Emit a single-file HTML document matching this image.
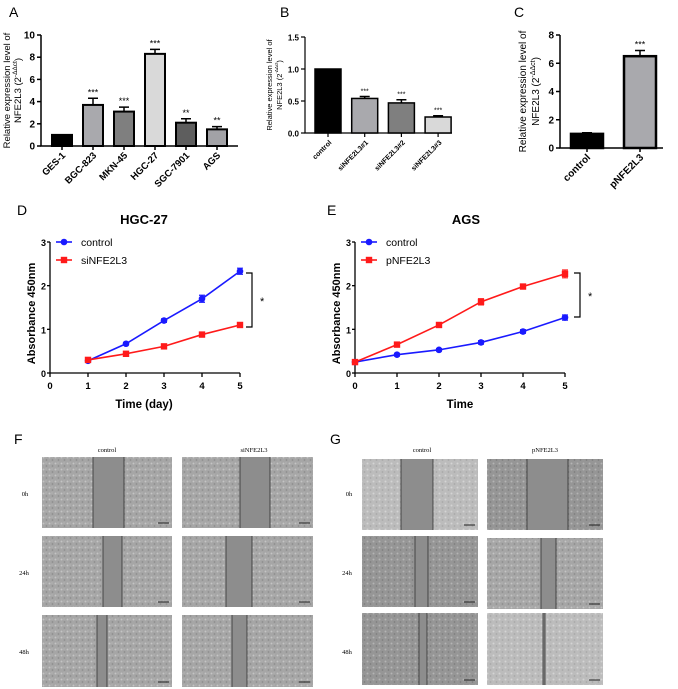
<!DOCTYPE html>
<html><head><meta charset="utf-8">
<style>
html,body{margin:0;padding:0;background:#fff;}
svg{display:block;font-family:"Liberation Sans",Arial,sans-serif;}
</style></head>
<body>
<svg id="fig" width="678" height="689" viewBox="0 0 678 689" xmlns="http://www.w3.org/2000/svg">
<defs>
<pattern id="cells" width="6" height="6" patternUnits="userSpaceOnUse">
<rect width="6" height="6" fill="#a6a6a6"/>
<circle cx="1.5" cy="1.5" r="1" fill="#c4c4c4"/>
<circle cx="4.5" cy="4" r="0.9" fill="#8c8c8c"/>
<circle cx="4" cy="1" r="0.6" fill="#bdbdbd"/>
</pattern>
<pattern id="cellsL" width="6" height="6" patternUnits="userSpaceOnUse">
<rect width="6" height="6" fill="#bcbcbc"/>
<circle cx="1.5" cy="1.5" r="1" fill="#d4d4d4"/>
<circle cx="4.5" cy="4" r="0.9" fill="#a8a8a8"/>
</pattern>
<pattern id="cellsD" width="6" height="6" patternUnits="userSpaceOnUse">
<rect width="6" height="6" fill="#969696"/>
<circle cx="1.5" cy="1.5" r="1" fill="#b4b4b4"/>
<circle cx="4.5" cy="4" r="0.9" fill="#7e7e7e"/>
</pattern>
</defs>
<g font-size="14">
<text x="9" y="17">A</text>
<text x="280" y="17">B</text>
<text x="514" y="17">C</text>
<text x="17" y="215">D</text>
<text x="327" y="215">E</text>
<text x="14" y="444">F</text>
<text x="330" y="444">G</text>
</g>
</svg>
<script>
// ---- data ----
const aCats = ["GES-1","BGC-823","MKN-45","HGC-27","SGC-7901","AGS"];
const aVals = [1.0, 3.7, 3.1, 8.3, 2.1, 1.5];
const aErr = [0.0, 0.6, 0.4, 0.4, 0.35, 0.25];
const aSig = ["","***","***","***","**","**"];
const aTicks = [0,2,4,6,8,10];
const bCats = ["control","siNFE2L3#1","siNFE2L3#2","siNFE2L3#3"];
const bVals = [1.0, 0.54, 0.47, 0.25];
const bErr = [0.0, 0.03, 0.05, 0.02];
const bSig = ["","***","***","***"];
const bTicks = [0.0,0.5,1.0,1.5];
const cCats = ["control","pNFE2L3"];
const cVals = [1.0, 6.5];
const cErr = [0.08, 0.4];
const cSig = ["","***"];
const cTicks = [0,2,4,6,8];
const dX = [1,2,3,4,5];
const dControl = [0.28,0.67,1.2,1.7,2.33];
const dControlErr = [0.03,0.03,0.04,0.08,0.07];
const dSi = [0.3,0.44,0.61,0.88,1.1];
const dSiErr = [0.03,0.03,0.03,0.05,0.04];
const eX = [0,1,2,3,4,5];
const eControl = [0.25,0.42,0.53,0.7,0.95,1.27];
const eControlErr = [0.03,0.03,0.03,0.04,0.04,0.06];
const eP = [0.25,0.65,1.1,1.63,1.98,2.27];
const eErrP = [0.03,0.04,0.04,0.07,0.05,0.09];
const lineXTicks = [0,1,2,3,4,5];
const lineYTicks = [0,1,2,3];

const NS="http://www.w3.org/2000/svg";
const svg=document.getElementById('fig');
function mk(tag,attrs,parent){const e=document.createElementNS(NS,tag);for(const k in attrs)e.setAttribute(k,attrs[k]);(parent||svg).appendChild(e);return e;}
function txt(s,attrs,parent){const e=mk('text',attrs,parent);e.textContent=s;return e;}

function barChart(cfg){
  const g=mk('g',{});
  
  
  const y=v=>cfg.y0-(v-cfg.ymin)/(cfg.ymax-cfg.ymin)*(cfg.y0-cfg.y1);
  const ax=mk('path',{d:`M${cfg.x0},${cfg.y1} V${cfg.y0} H${cfg.xEnd}`,stroke:'#000','stroke-width':cfg.aw,fill:'none'},g);
  
  
  cfg.ticks.forEach(t=>{
    const tk=mk('line',{x1:cfg.x0-4,x2:cfg.x0,y1:y(t),y2:y(t),stroke:'#000','stroke-width':cfg.aw},g);
    
    
    const tl=txt(cfg.fmt(t),{x:cfg.x0-6,y:y(t)+3.5,'text-anchor':'end','font-size':cfg.fs,'font-weight':'bold'},g);
    
    
  });
  cfg.cats.forEach((c,i)=>{
    const cx=cfg.cx0+i*cfg.step, v=cfg.vals[i];
    const b=mk('rect',{x:cx-cfg.bw/2,y:y(v),width:cfg.bw,height:cfg.y0-y(v),fill:cfg.colors[i],stroke:'#000','stroke-width':cfg.bsw},g);
    
    
    const e=cfg.err[i];
    if(e>0){
      const eb=mk('path',{d:`M${cx},${y(v)} V${y(v+e)} M${cx-5},${y(v+e)} H${cx+5}`,stroke:'#000','stroke-width':1.5,fill:'none'},g);
      
      
    }
    if(cfg.sig[i]){
      const s=txt(cfg.sig[i],{x:cx,y:y(v+e)-3,'text-anchor':'middle','font-size':cfg.fs-1},g);
      
      
    }
    const tk=mk('line',{x1:cx,x2:cx,y1:cfg.y0,y2:cfg.y0+4,stroke:'#000','stroke-width':cfg.aw},g);
    
    
    const xl=txt(c,{x:cx+4,y:cfg.y0+10,'text-anchor':'end','font-size':cfg.xfs,'font-weight':'bold',transform:`rotate(-45 ${cx+4} ${cfg.y0+10})`},g);
    
    
  });
  const ym=(cfg.y0+cfg.y1)/2;
  const l1=txt('Relative expression level of',{x:cfg.lx,y:ym,'text-anchor':'middle','font-size':cfg.lfs,transform:`rotate(-90 ${cfg.lx} ${ym})`},g);
  
  
  const l2=mk('text',{x:cfg.lx+cfg.lgap,y:ym,'text-anchor':'middle','font-size':cfg.lfs,transform:`rotate(-90 ${cfg.lx+cfg.lgap} ${ym})`},g);
  l2.innerHTML='NFE2L3 (2<tspan dy="-4" font-size="'+(cfg.lfs-3)+'">-ΔΔct</tspan><tspan dy="4">)</tspan>';
  
  
}

barChart({name:'chart-a',cats:aCats,vals:aVals,err:aErr,sig:aSig,ticks:aTicks,ymin:0,ymax:10,
  x0:41,y0:146,y1:35,xEnd:238,cx0:62,step:31,bw:20,bsw:2,aw:1.5,fs:10,xfs:9.5,lfs:9.5,lx:10,lgap:11,
  colors:['#000','#a9a9ad','#7f7f7f','#d9d9d9','#5e5e5e','#a2a2a6'],fmt:t=>String(t)});
barChart({name:'chart-b',cats:bCats,vals:bVals,err:bErr,sig:bSig,ticks:bTicks,ymin:0,ymax:1.5,
  x0:305,y0:133,y1:37,xEnd:452,cx0:328,step:36.7,bw:26,bsw:1.5,aw:1.2,fs:8,xfs:7,lfs:7.5,lx:272,lgap:10,
  colors:['#000','#a9a9ad','#7f7f7f','#d9d9d9'],fmt:t=>t.toFixed(1)});
barChart({name:'chart-c',cats:cCats,vals:cVals,err:cErr,sig:cSig,ticks:cTicks,ymin:0,ymax:8,
  x0:560,y0:148,y1:35,xEnd:663,cx0:587,step:53,bw:32,bsw:2.5,aw:1.5,fs:10,xfs:10,lfs:10,lx:526,lgap:13,
  colors:['#000','#a9a9ad'],fmt:t=>String(t)});

function lineChart(cfg){
  const g=mk('g',{});
  
  
  const x=v=>cfg.x0+v/5*(cfg.x5-cfg.x0);
  const y=v=>cfg.y0-v/3*(cfg.y0-cfg.y3);
  const ax=mk('path',{d:`M${cfg.x0},${cfg.y3} V${cfg.y0} H${cfg.x5}`,stroke:'#000','stroke-width':1.3,fill:'none'},g);
  
  
  lineYTicks.forEach(t=>{
    const tk=mk('line',{x1:cfg.x0-3,x2:cfg.x0,y1:y(t),y2:y(t),stroke:'#000','stroke-width':1.3},g);
    
    
    const tl=txt(String(t),{x:cfg.x0-4,y:y(t)+4,'text-anchor':'end','font-size':9,'font-weight':'bold'},g);
    
    
  });
  lineXTicks.forEach(t=>{
    const tk=mk('line',{x1:x(t),x2:x(t),y1:cfg.y0,y2:cfg.y0+4,stroke:'#000','stroke-width':1.3},g);
    
    
    const tl=txt(String(t),{x:x(t),y:cfg.y0+16,'text-anchor':'middle','font-size':9.5,'font-weight':'bold'},g);
    
    
  });
  const series=[{n:cfg.s1n,xs:cfg.xs1,v:cfg.s1,e:cfg.e1,c:'#1a1aff',sq:false},{n:cfg.s2n,xs:cfg.xs2,v:cfg.s2,e:cfg.e2,c:'#ff1a1a',sq:true}];
  series.forEach((s,si)=>{
    const pts=s.xs.map((xv,i)=>x(xv)+','+y(s.v[i])).join(' ');
    const pl=mk('polyline',{points:pts,fill:'none',stroke:s.c,'stroke-width':1.6},g);
    
    
    s.xs.forEach((xv,i)=>{
      const px=x(xv),py=y(s.v[i]),ee=s.e[i]/3*(cfg.y0-cfg.y3);
      const eb=mk('path',{d:`M${px},${py-ee} V${py+ee} M${px-3},${py-ee} H${px+3} M${px-3},${py+ee} H${px+3}`,stroke:s.c,'stroke-width':1.2,fill:'none'},g);
      
      
      const m=s.sq?mk('rect',{x:px-3.2,y:py-3.2,width:6.4,height:6.4,fill:s.c},g):mk('circle',{cx:px,cy:py,r:3.3,fill:s.c},g);
      
      
    });
    const ly=cfg.y3+si*18;
    const ll=mk('line',{x1:cfg.x0+6,x2:cfg.x0+22,y1:ly,y2:ly,stroke:s.c,'stroke-width':1.6},g);
    
    
    const lm=s.sq?mk('rect',{x:cfg.x0+14-3.2,y:ly-3.2,width:6.4,height:6.4,fill:s.c},g):mk('circle',{cx:cfg.x0+14,cy:ly,r:3.3,fill:s.c},g);
    
    
    const lt=txt(s.n,{x:cfg.x0+31,y:ly+4,'font-size':10.5},g);
    
    
  });
  const bx=cfg.bx;
  const br=mk('path',{d:`M${bx-6},${cfg.by1} H${bx} V${cfg.by2} H${bx-6}`,stroke:'#000','stroke-width':1.2,fill:'none'},g);
  
  
  const st=txt('*',{x:bx+8,y:(cfg.by1+cfg.by2)/2+5,'font-size':11},g);
  
  
  const tt=txt(cfg.title,{x:cfg.tx,y:224,'text-anchor':'middle','font-size':13,'font-weight':'bold'},g);
  
  
  const ym=(cfg.y0+cfg.y3)/2+6;
  const yt=txt('Absorbance 450nm',{x:cfg.x0-15,y:ym,'text-anchor':'middle','font-size':11,'font-weight':'bold',transform:`rotate(-90 ${cfg.x0-15} ${ym})`},g);
  
  
  const xt=txt(cfg.xtitle,{x:cfg.xtx,y:408,'text-anchor':'middle','font-size':11.5,'font-weight':'bold'},g);
  
  
}
lineChart({name:'chart-d',title:'HGC-27',tx:144,x0:50,x5:240,y0:373,y3:242,s1n:'control',s2n:'siNFE2L3',xs1:dX,xs2:dX,s1:dControl,e1:dControlErr,s2:dSi,e2:dSiErr,bx:252,by1:273,by2:327,xtitle:'Time (day)',xtx:144});
lineChart({name:'chart-e',title:'AGS',tx:466,x0:355,x5:565,y0:373,y3:242,s1n:'control',s2n:'pNFE2L3',xs1:eX,xs2:eX,s1:eControl,e1:eControlErr,s2:eP,e2:eErrP,bx:580,by1:273,by2:317,xtitle:'Time',xtx:460});

// wound-healing micrographs
function micro(name,x1,y1,x2,y2,g1,g2,fill){
  const g=mk('g',{});
  
  
  const r=mk('rect',{x:x1,y:y1,width:x2-x1,height:y2-y1,fill:fill},g);
  
  
  const gap=mk('rect',{x:g1,y:y1,width:g2-g1,height:y2-y1,fill:'#8d8d8d'},g);
  
  
  [g1,g2].forEach(v=>{const l=mk('line',{x1:v,x2:v,y1:y1,y2:y2,stroke:'#333','stroke-width':0.8},g);
    
    });
  const sb=mk('line',{x1:x2-14,x2:x2-3,y1:y2-5,y2:y2-5,stroke:'#222','stroke-width':1},g);
  
  
}
micro('f-control-0h',42,457,172,528,93,124,'url(#cells)');
micro('f-si-0h',182,457,313,528,240,270,'url(#cells)');
micro('f-control-24h',42,536,172,607,103,122,'url(#cells)');
micro('f-si-24h',182,536,313,607,226,252,'url(#cells)');
micro('f-control-48h',42,615,172,687,97,107,'url(#cells)');
micro('f-si-48h',182,615,313,687,232,247,'url(#cells)');
micro('g-control-0h',362,459,478,530,401,433,'url(#cellsL)');
micro('g-p-0h',487,459,603,530,527,568,'url(#cellsD)');
micro('g-control-24h',362,536,478,607,415,428,'url(#cellsD)');
micro('g-p-24h',487,538,603,609,541,556,'url(#cells)');
micro('g-control-48h',362,613,478,685,419,427,'url(#cellsD)');
micro('g-p-48h',487,613,603,685,543,545,'url(#cellsL)');
const labs=[['control',107,452],['siNFE2L3',254,452],['control',422,452],['pNFE2L3',545,452],
  ['0h',25,496],['24h',24,575],['48h',24,654],['0h',349,496],['24h',347,575],['48h',347,654]];
labs.forEach(l=>{
  const t=txt(l[0],{x:l[1],y:l[2],'text-anchor':'middle','font-size':6.5,'font-family':'Liberation Serif, serif'});
  
  
});
</script>
</body></html>
